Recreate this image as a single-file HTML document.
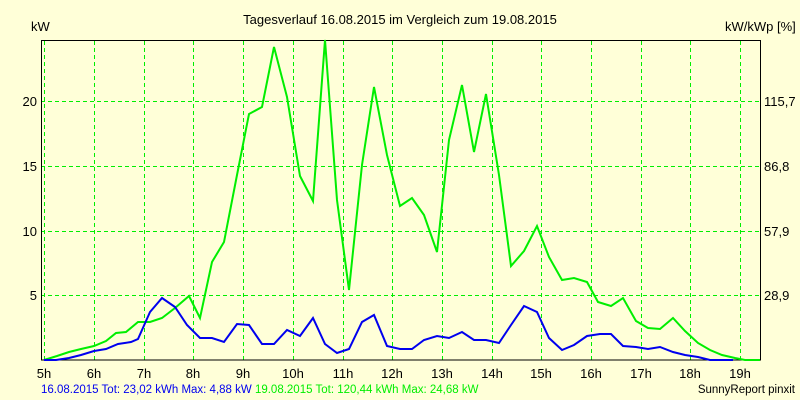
<!DOCTYPE html>
<html><head><meta charset="utf-8"><style>
body{margin:0;background:#FFFFD8;}
svg{display:block;font-family:"Liberation Sans",sans-serif;}
</style></head><body>
<svg width="800" height="400" viewBox="0 0 800 400">
<rect width="800" height="400" fill="#FFFFD8"/>
<text x="400" y="24" font-size="13" text-anchor="middle">Tagesverlauf 16.08.2015 im Vergleich zum 19.08.2015</text>
<text x="31" y="31" font-size="13">kW</text>
<text x="725" y="31" font-size="13">kW/kWp [%]</text>
<g stroke="#00EE00" stroke-width="1" stroke-dasharray="4,3">
<line x1="44.5" y1="41" x2="44.5" y2="360"/><line x1="94.5" y1="41" x2="94.5" y2="360"/><line x1="144.5" y1="41" x2="144.5" y2="360"/><line x1="193.5" y1="41" x2="193.5" y2="360"/><line x1="243.5" y1="41" x2="243.5" y2="360"/><line x1="293.5" y1="41" x2="293.5" y2="360"/><line x1="343.5" y1="41" x2="343.5" y2="360"/><line x1="392.5" y1="41" x2="392.5" y2="360"/><line x1="442.5" y1="41" x2="442.5" y2="360"/><line x1="492.5" y1="41" x2="492.5" y2="360"/><line x1="541.5" y1="41" x2="541.5" y2="360"/><line x1="591.5" y1="41" x2="591.5" y2="360"/><line x1="641.5" y1="41" x2="641.5" y2="360"/><line x1="690.5" y1="41" x2="690.5" y2="360"/><line x1="740.5" y1="41" x2="740.5" y2="360"/>
<line x1="41" y1="101.5" x2="760" y2="101.5"/><line x1="41" y1="166.5" x2="760" y2="166.5"/><line x1="41" y1="231.5" x2="760" y2="231.5"/><line x1="41" y1="295.5" x2="760" y2="295.5"/>
</g>
<polyline fill="none" stroke="#000" stroke-width="1" points="41.5,360 41.5,40.5 760.5,40.5 760.5,360"/>
<line x1="41" y1="360" x2="761" y2="360" stroke="#000"/>
<g font-size="13" text-anchor="end">
<text x="37" y="106">20</text><text x="37" y="171">15</text><text x="37" y="236">10</text><text x="37" y="300">5</text>
</g>
<g font-size="13">
<text x="764" y="106">115,7</text><text x="764" y="171">86,8</text><text x="764" y="236">57,9</text><text x="764" y="300">28,9</text>
</g>
<g font-size="13" text-anchor="middle">
<text x="44" y="378">5h</text><text x="94" y="378">6h</text><text x="144" y="378">7h</text><text x="193" y="378">8h</text><text x="243" y="378">9h</text><text x="293" y="378">10h</text><text x="343" y="378">11h</text><text x="392" y="378">12h</text><text x="442" y="378">13h</text><text x="492" y="378">14h</text><text x="541" y="378">15h</text><text x="591" y="378">16h</text><text x="641" y="378">17h</text><text x="690" y="378">18h</text><text x="740" y="378">19h</text>
</g>
<polyline fill="none" stroke="#00EE00" stroke-width="2" points="44,360 57,356 69,352 81,349 94,346 106,341 116,333 126,332 138,322 150,322 162,318 175,308 189,296 200,318 212,262 224,242 237,175 249,114 262,107 274,47 287,97 300,176 313,201 325,40 337,200 349,290 362,165 374,87 387,155 400,206 412,198 424,215 437,252 449,140 462,85 474,152 486,94 499,175 511,266 524,251 537,226 549,257 562,280 574,278 587,282 598,302 611,306 623,298 636,321 648,328 660,329 673,318 685,331 698,343 710,350 722,355 735,358 745,360 760,360"/>
<polyline fill="none" stroke="#0000EE" stroke-width="2" points="44,360 56,360 69,358 81,355 94,351 106,349 118,344 131,342 138,339 150,312 162,298 175,307 187,325 200,338 212,338 224,342 237,324 249,325 262,344 274,344 287,330 300,336 313,318 325,344 337,353 349,349 362,322 374,315 387,346 400,349 412,349 424,340 437,336 449,338 462,332 474,340 486,340 499,343 511,325 524,306 537,312 549,338 562,350 574,345 587,336 600,334 611,334 623,346 636,347 648,349 660,347 673,352 685,355 698,357 710,360 733,360"/>
<text x="41" y="393" font-size="11.5" fill="#0000EE">16.08.2015 Tot: 23,02 kWh Max: 4,88 kW <tspan fill="#00EE00">19.08.2015 Tot: 120,44 kWh Max: 24,68 kW</tspan></text>
<text x="795" y="393" font-size="11.5" text-anchor="end">SunnyReport pinxit</text>
</svg>
</body></html>
